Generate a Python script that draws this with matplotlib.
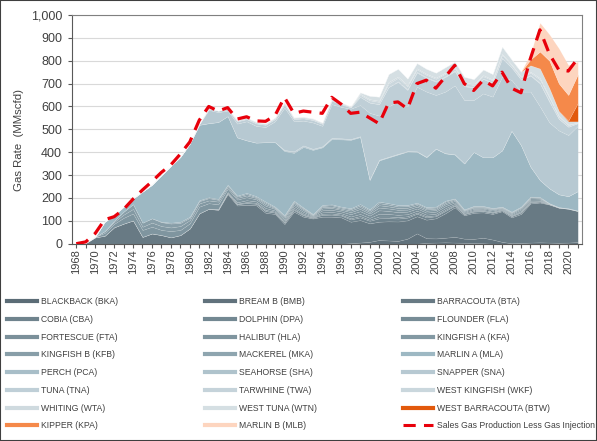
import matplotlib
matplotlib.use("Agg")
import matplotlib.pyplot as plt
from matplotlib.lines import Line2D
from matplotlib.patches import Rectangle
from matplotlib.ticker import FuncFormatter

plt.rcParams["font.family"] = ["Liberation Sans", "DejaVu Sans"]

years = list(range(1968, 2022))

# gas rate by field, MMscfd (rows of 10 years: 1968-77, 78-87, 88-97, 98-07, 08-17, 18-21)
bka = [0, 0, 0, 0, 0, 0, 0, 0, 0, 0,
       0, 0, 0, 0, 0, 0, 0, 0, 0, 0,
       0, 0, 0, 0, 0, 0, 0, 0, 0, 0,
       0, 0, 0, 0, 0, 0, 0, 4, 5, 6,
       5, 4, 3, 2, 0, 0, 0, 0, 0, 0,
       0, 0, 0, 0]
bmb = [0, 0, 0, 0, 0, 0, 0, 0, 0, 0,
       0, 0, 0, 0, 0, 0, 0, 0, 0, 0,
       0, 0, 0, 0, 0, 0, 0, 0, 0, 2,
       5, 8, 16, 14, 12, 22, 45, 20, 18, 20,
       25, 18, 18, 24, 18, 8, 2, 3, 5, 6,
       5, 4, 5, 7]
bta = [0, 3, 28, 35, 72, 88, 102, 30, 45, 38,
       28, 38, 67, 133, 153, 147, 217, 167, 170, 168,
       135, 130, 86, 140, 118, 110, 118, 118, 115, 94,
       98, 81, 80, 84, 85, 80, 75, 81, 88, 107,
       129, 102, 114, 111, 112, 134, 113, 127, 171, 174,
       166, 153, 148, 136]
cba = [0, 0, 0, 0, 0, 0, 0, 0, 0, 0,
       0, 0, 0, 0, 0, 3, 5, 6, 8, 7,
       8, 6, 6, 7, 6, 3, 8, 9, 8, 10,
       12, 11, 15, 14, 13, 12, 11, 10, 9, 10,
       7, 5, 5, 5, 5, 4, 5, 6, 5, 4,
       1, 1, 0, 0]
dpa = [0, 0, 0, 0, 0, 0, 0, 0, 0, 0,
       0, 0, 0, 0, 0, 0, 0, 0, 0, 0,
       0, 0, 3, 4, 3, 2, 5, 5, 4, 5,
       6, 5, 8, 7, 6, 6, 5, 5, 4, 5,
       3, 2, 3, 2, 2, 2, 2, 3, 3, 2,
       1, 0, 0, 0]
fla = [0, 0, 0, 0, 0, 0, 0, 0, 0, 0,
       0, 0, 0, 0, 0, 0, 0, 2, 4, 4,
       5, 4, 5, 6, 5, 3, 6, 7, 6, 8,
       9, 8, 12, 11, 10, 9, 8, 7, 7, 7,
       5, 4, 4, 4, 3, 3, 3, 4, 4, 3,
       1, 0, 0, 0]
fta = [0, 0, 0, 0, 0, 0, 0, 0, 0, 0,
       0, 0, 0, 0, 0, 2, 4, 6, 8, 6,
       8, 5, 6, 8, 7, 3, 9, 9, 8, 10,
       12, 10, 15, 13, 12, 11, 10, 9, 9, 9,
       7, 4, 5, 5, 5, 3, 4, 6, 5, 4,
       1, 1, 1, 1]
hla = [0, 1, 2, 12, 15, 25, 30, 30, 29, 22,
       27, 22, 22, 29, 24, 20, 14, 12, 13, 9,
       10, 7, 7, 8, 7, 3, 8, 8, 7, 9,
       10, 9, 12, 11, 10, 9, 8, 8, 7, 8,
       6, 4, 5, 4, 4, 3, 4, 5, 5, 4,
       1, 1, 1, 1]
kfa = [0, 0, 0, 8, 8, 14, 20, 14, 18, 17,
       16, 17, 14, 14, 12, 12, 8, 7, 8, 6,
       7, 4, 5, 6, 5, 2, 6, 6, 5, 7,
       8, 7, 10, 9, 8, 8, 7, 6, 6, 6,
       5, 3, 3, 3, 3, 2, 3, 4, 4, 3,
       1, 0, 0, 0]
kfb = [0, 0, 0, 0, 5, 13, 21, 18, 19, 17,
       17, 14, 10, 10, 10, 8, 7, 6, 6, 4,
       6, 3, 4, 5, 4, 2, 5, 6, 5, 6,
       7, 6, 9, 8, 7, 7, 6, 6, 5, 6,
       4, 2, 3, 3, 2, 2, 2, 2, 2, 2,
       0, 0, 0, 0]
mka = [0, 0, 0, 0, 0, 0, 0, 0, 0, 2,
       4, 5, 5, 4, 4, 4, 3, 4, 5, 4,
       5, 3, 3, 4, 3, 2, 4, 4, 4, 4,
       6, 5, 7, 6, 6, 5, 4, 4, 4, 4,
       2, 2, 2, 2, 2, 1, 2, 2, 2, 2,
       0, 0, 0, 0]
mla = [0, 1, 1, 41, 25, 22, 25, 136, 147, 204,
       248, 284, 320, 330, 324, 336, 300, 255, 230, 234,
       260, 282, 280, 209, 265, 280, 252, 286, 294, 299,
       293, 128, 180, 200, 221, 234, 223, 218, 253, 207,
       192, 201, 236, 213, 222, 246, 354, 269, 131, 74,
       65, 56, 53, 85]
pca = [0, 0, 0, 0, 0, 0, 0, 0, 0, 0,
       0, 0, 0, 0, 0, 0, 0, 0, 0, 0,
       0, 0, 3, 4, 4, 3, 3, 3, 3, 2,
       2, 2, 2, 2, 2, 1, 1, 1, 0, 0,
       0, 0, 0, 0, 0, 0, 0, 0, 0, 0,
       0, 0, 0, 0]
sha = [0, 0, 0, 0, 0, 0, 0, 0, 0, 0,
       0, 0, 0, 0, 0, 0, 0, 0, 0, 0,
       0, 0, 2, 3, 3, 2, 2, 2, 2, 2,
       2, 1, 1, 1, 1, 1, 1, 1, 1, 1,
       1, 0, 0, 0, 0, 0, 0, 0, 0, 0,
       0, 0, 0, 0]
sna = [0, 0, 0, 0, 0, 0, 0, 0, 0, 0,
       0, 0, 0, 2, 58, 43, 24, 60, 83, 73,
       66, 91, 185, 131, 108, 115, 89, 147, 137, 132,
       136, 291, 193, 220, 229, 195, 282, 285, 234, 269,
       301, 277, 227, 279, 265, 322, 222, 234, 328, 322,
       288, 279, 267, 285]
tna = [0, 0, 0, 0, 0, 0, 0, 0, 0, 0,
       0, 0, 0, 3, 7, 7, 6, 10, 10, 11,
       10, 10, 14, 10, 10, 11, 9, 15, 12, 6,
       36, 45, 50, 85, 85, 72, 62, 60, 58, 64,
       62, 60, 55, 63, 59, 80, 54, 52, 70, 100,
       90, 50, 36, 12]
twa = [0, 0, 0, 0, 0, 0, 0, 0, 0, 0,
       0, 0, 0, 0, 0, 0, 0, 0, 0, 0,
       0, 0, 0, 0, 0, 0, 0, 0, 0, 0,
       0, 0, 0, 0, 3, 3, 3, 3, 3, 3,
       3, 3, 2, 2, 2, 3, 2, 2, 2, 3,
       3, 2, 1, 0]
wkf = [0, 0, 0, 0, 0, 0, 0, 0, 0, 0,
       0, 0, 0, 0, 0, 0, 2, 3, 4, 4,
       3, 4, 5, 4, 4, 4, 3, 5, 4, 2,
       8, 10, 10, 15, 15, 13, 11, 10, 10, 11,
       10, 10, 9, 10, 10, 12, 8, 8, 10, 15,
       14, 8, 6, 2]
wta = [0, 0, 0, 0, 0, 0, 0, 0, 0, 0,
       0, 0, 0, 0, 0, 0, 0, 3, 3, 3,
       3, 3, 4, 3, 3, 3, 3, 5, 4, 2,
       5, 5, 5, 7, 6, 6, 5, 5, 5, 5,
       5, 5, 4, 5, 4, 5, 4, 4, 5, 6,
       5, 4, 3, 1]
wtn = [0, 0, 0, 0, 0, 0, 0, 0, 0, 0,
       0, 0, 0, 0, 0, 0, 0, 0, 0, 0,
       0, 0, 0, 0, 0, 0, 0, 0, 0, 0,
       7, 15, 18, 35, 34, 28, 23, 22, 22, 24,
       24, 24, 22, 25, 24, 32, 22, 21, 28, 42,
       38, 21, 14, 5]
btw = [0] * 52 + [3, 80]
kpa = [0] * 48 + [25, 74, 120, 120, 112, 125]
mlb = [0] * 48 + [25, 126, 115, 154, 131, 56]

sales_gas = [0, 8, 45, 105, 118, 150, 195, 235, 272, 312,
             345, 392, 445, 540, 600, 580, 595, 545, 555, 537,
             535, 560, 640, 570, 580, 575, 570, 640, 610, 570,
             575, 550, 525, 615, 620, 590, 700, 715, 680, 730,
             780, 700, 670, 715, 690, 750, 680, 660, 810, 935,
             830, 760, 755, 810]

field_labels = ["BLACKBACK (BKA)", "BREAM B (BMB)", "BARRACOUTA (BTA)",
                "COBIA (CBA)", "DOLPHIN (DPA)", "FLOUNDER (FLA)",
                "FORTESCUE (FTA)", "HALIBUT (HLA)", "KINGFISH A (KFA)",
                "KINGFISH B (KFB)", "MACKEREL (MKA)", "MARLIN A (MLA)",
                "PERCH (PCA)", "SEAHORSE (SHA)", "SNAPPER (SNA)",
                "TUNA (TNA)", "TARWHINE (TWA)", "WEST KINGFISH (WKF)",
                "WHITING (WTA)", "WEST TUNA (WTN)", "WEST BARRACOUTA (BTW)",
                "KIPPER (KPA)", "MARLIN B (MLB)"]
sales_label = "Sales Gas Production Less Gas Injection"

fields = [bka, bmb, bta, cba, dpa, fla, fta, hla, kfa, kfb, mka, mla,
          pca, sha, sna, tna, twa, wkf, wta, wtn, btw, kpa, mlb]
field_colors = ["#5b6c76", "#61727c", "#687a84", "#6f838d", "#738892",
                "#778c96", "#7b909a", "#7f959f", "#8399a3", "#889ea8",
                "#8ea5af", "#9db8c3", "#a8bec8", "#afc3cc", "#b7c9d2",
                "#bfcfd7", "#c5d3da", "#cad7dd", "#cfdadf", "#d5dfe3",
                "#e2590c", "#f5894a", "#fdd5bf"]
red = "#e8000b"
txt = "#404040"

fig = plt.figure(figsize=(5.97, 4.41), dpi=100)
ax = fig.add_axes([0.1206, 0.4474, 0.8543, 0.5186])
ax.set_axisbelow(True)
ax.yaxis.grid(True, color="#d9d9d9", lw=0.8)

ax.stackplot(years, *fields, colors=field_colors,
             edgecolor=(1, 1, 1, 0.15), linewidth=0.4)
ax.plot(years, sales_gas, color=red, lw=2.3, dashes=(4, 2.6), zorder=5)

ax.set_xlim(1967.55, 2021.45)
ax.set_ylim(0, 1000)
ax.set_yticks(range(0, 1001, 100))
ax.yaxis.set_major_formatter(FuncFormatter(lambda v, p: f"{v:,.0f}"))
ax.set_xticks(years)
ax.set_xticklabels([str(y) if y % 2 == 0 else "" for y in years], rotation=90)
ax.tick_params(axis="x", length=3, width=0.8, color="#595959",
               labelsize=8, pad=1, labelcolor=txt)
ax.tick_params(axis="y", length=2.6, width=0.8, color="#595959",
               labelsize=9, pad=4.5, labelcolor=txt)
for side in ["top", "right"]:
    ax.spines[side].set_color("#808080")
for side in ["left", "bottom"]:
    ax.spines[side].set_color("#595959")
ax.set_ylabel("Gas Rate  (MMscfd)", fontsize=8.2, color=txt)
ax.yaxis.set_label_coords(-0.094, 0.453)

# legend: 3 columns, filled row by row
handles = [Line2D([], [], color=c, lw=3) for c in field_colors]
handles.append(Line2D([], [], color=red, lw=2.2, dashes=(4, 2.7)))
labels = field_labels + [sales_label]
col_x = [7 / 597, 205 / 597, 403 / 597]
for c in range(3):
    fig.legend(handles[c::3], labels[c::3], loc="upper left",
               bbox_to_anchor=(col_x[c], 1 - 297 / 441), frameon=False,
               fontsize=6.2, labelcolor=txt, borderpad=0, borderaxespad=0,
               handlelength=3.5, handletextpad=0.45, labelspacing=1.02)

fig.patches.append(Rectangle((0, 0), 1, 1, transform=fig.transFigure,
                             fill=False, edgecolor="#3f3f3f", lw=1.5))

fig.savefig("out.png", dpi=100)
